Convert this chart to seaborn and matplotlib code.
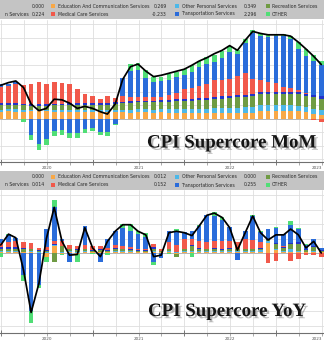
import numpy as np
import pandas as pd
import matplotlib
matplotlib.use("Agg")
import matplotlib.pyplot as plt
import seaborn as sns
from matplotlib import patheffects as pe
from matplotlib.patches import Rectangle

sns.set_theme(style="white")
plt.rcParams["font.family"] = ["DejaVu Sans"]

# ---------------- data ----------------
dates = pd.date_range("2019-12-31", periods=43, freq="ME")

# top panel ("CPI Supercore MoM")
top_edu = [0.50,0.52,0.51,0.50,0.52,0.53,0.52,0.51,0.50,0.50,0.49,0.50,0.49,0.48,0.47,
           0.45,0.45,0.44,0.45,0.45,0.44,0.45,
           0.40,0.40,0.39,0.40,0.40,0.39,0.40,0.38,0.38,0.39,0.40,0.42,
           0.55,0.56,0.58,0.58,0.57,0.55,0.45,0.35,0.27]
top_pers = [0.15,0.15,0.16,0.15,0.14,0.13,0.13,0.14,0.14,0.15,0.15,0.14,0.14,0.15,0.15,
            0.18,0.20,0.21,0.22,0.22,0.22,0.23,
            0.28,0.29,0.30,0.30,0.31,0.32,
            0.36,0.38,0.40,0.41,0.42,0.43,0.43,0.42,0.42,0.41,0.40,0.40,0.39,0.38,0.35]
top_rec = [0.35,0.35,0.36,0.34,0.30,0.28,0.30,0.33,0.35,0.36,0.37,0.38,0.38,0.39,0.40,
           0.45,0.48,0.50,0.52,0.53,0.54,0.55,
           0.57,0.58,0.60,0.62,0.63,0.65,
           0.70,0.72,0.74,0.76,0.78,0.80,
           0.82,0.84,0.85,0.86,0.86,0.87,0.86,0.85,0.80]
top_water = [0.12,0.12,0.12,0.12,0.12,0.11,0.11,0.12,0.12,0.12,0.12,0.12,0.12,0.12,0.12,
             0.12,0.12,0.12,0.12,0.12,0.12,0.12,
             0.15,0.15,0.15,0.15,0.15,0.15,0.15,0.15,0.15,0.15,0.16,0.16,
             0.16,0.15,0.15,0.15,0.15,0.15,0.15,0.15,0.22]
top_med = [1.22,1.27,1.43,1.34,1.49,1.64,1.49,1.58,1.49,1.42,1.05,0.68,0.53,0.34,0.50,
           0.34,0.40,0.35,0.30,0.25,0.25,0.25,0.37,0.49,0.78,0.81,0.93,1.08,
           1.23,1.23,1.23,1.47,1.60,1.10,0.86,0.74,0.61,0.37,0.25,0.12,0.07,-0.10,-0.23]
top_trans = [0.20,0.15,0.10,-0.05,-1.21,-1.88,-1.51,-0.90,-0.85,-1.09,-1.07,-0.77,-0.72,-0.99,-0.99,
             -0.40,1.36,1.90,1.95,1.45,1.10,1.15,1.09,1.19,1.00,1.20,1.43,1.48,
             1.37,1.63,2.05,1.63,2.25,3.40,3.29,3.34,3.47,3.71,3.65,3.09,2.74,2.53,2.30]
top_other = [0.00,0.00,0.00,-0.20,-0.35,-0.42,-0.44,-0.37,-0.37,-0.37,-0.39,-0.29,-0.18,-0.25,-0.29,
             -0.05,0.00,0.50,0.54,0.56,0.44,0.35,0.44,0.37,0.42,0.49,0.44,0.49,
             0.50,0.49,0.42,0.25,0.25,0.25,0.20,0.17,0.17,0.17,0.25,0.49,0.49,0.42,0.30]
top_line = [2.46,2.66,2.78,2.29,1.07,0.58,0.75,1.43,1.38,1.14,0.75,0.90,0.75,0.50,0.33,
            1.07,2.90,3.84,4.03,3.51,3.10,3.20,3.35,3.50,3.65,3.95,4.25,4.50,
            4.80,5.05,5.40,5.05,5.80,6.45,6.30,6.20,6.20,6.20,6.10,5.65,5.15,4.60,4.00]

# bottom panel ("CPI Supercore YoY")
bot_edu = [0.01,0.01,0.01,0.01,0.02,0.00,-0.05,0.10,-0.02,0.01,-0.02,0.01,0.01,0.01,0.01,
           0.01,0.01,0.01,0.01,0.01,0.01,0.01,0.01,-0.02,0.01,0.01,0.01,0.01,
           0.01,0.01,0.01,0.01,0.01,0.01,0.02,0.14,0.04,0.01,0.02,0.01,0.01,0.01,0.01]
bot_pers = [0.02,0.02,0.02,0.01,0.01,0.01,0.01,0.01,0.02,0.02,0.02,0.02,0.01,0.01,0.01,
            0.02,0.02,0.02,0.01,0.01,0.02,0.01,0.02,0.01,0.02,0.02,0.02,0.02,
            0.02,0.02,0.02,0.02,0.02,0.02,0.02,0.02,0.02,0.02,0.03,0.02,0.01,0.02,0.01]
bot_rec = [0.03,0.03,0.03,0.03,0.02,0.02,0.02,-0.12,0.07,0.02,0.02,0.02,0.01,0.02,0.01,
           0.03,0.02,0.01,0.01,0.01,0.03,0.01,0.02,-0.04,0.02,0.07,0.03,0.02,
           0.03,0.01,0.03,0.02,0.02,0.02,0.02,0.02,0.06,0.04,0.08,0.10,0.02,0.05,0.01]
bot_water = [0.02,0.02,0.02,0.02,0.01,0.01,0.01,0.01,0.01,0.01,0.01,0.01,0.01,0.01,0.01,
             0.01,0.01,0.01,0.01,0.01,0.02,0.00,0.01,0.01,0.01,0.01,0.01,0.01,
             0.01,0.01,0.01,0.01,0.01,0.01,0.01,0.01,0.02,0.01,0.01,0.02,0.01,0.01,0.01]
bot_med = [0.06,0.07,0.08,0.08,0.08,0.03,0.04,0.04,0.07,0.05,0.05,0.05,0.05,0.04,0.03,
           0.04,0.03,0.03,0.02,0.02,0.05,0.02,0.09,0.09,0.13,0.09,0.09,0.09,
           0.09,0.12,0.09,0.09,0.14,0.12,0.08,-0.14,-0.11,0.02,-0.11,-0.08,-0.03,-0.03,-0.05]
bot_trans = [0.05,0.10,0.05,-0.30,-0.80,-0.44,0.25,0.47,0.02,-0.12,0.00,0.26,0.01,-0.13,0.13,
             0.19,0.26,0.23,0.20,0.16,-0.12,-0.07,0.16,0.19,0.10,0.10,0.21,0.38,
             0.35,0.28,0.20,-0.10,0.10,0.33,0.14,0.14,0.20,0.16,0.25,0.18,0.06,0.10,0.03]
bot_other = [-0.05,0.01,0.00,-0.09,-0.16,-0.04,-0.08,0.10,-0.01,-0.01,-0.10,0.00,-0.02,0.00,-0.03,
             0.01,0.05,0.09,0.05,0.05,-0.05,0.00,-0.02,0.03,0.00,-0.05,0.01,0.00,
             0.05,0.05,0.00,0.00,0.00,0.01,0.02,0.00,0.02,0.00,0.05,0.01,0.01,0.01,0.00]
bot_line = [0.11,0.26,0.21,-0.24,-0.82,-0.42,0.20,0.63,0.16,-0.03,-0.02,0.35,0.07,-0.05,0.16,
            0.30,0.39,0.39,0.30,0.25,-0.05,-0.03,0.28,0.30,0.28,0.24,0.37,0.52,
            0.55,0.49,0.35,0.04,0.28,0.51,0.28,0.18,0.25,0.25,0.33,0.25,0.07,0.16,0.00]

year_labels = ["2020", "2021", "2022", "2023"]

# legend: first column only shows its tail inside the picture
legend_col0_tail = ["", "n Services"]
legend_names = ["Education And Communication Services", "Medical Care Services",
                "Other Personal Services", "Transportation Services",
                "Recreation Services", "OTHER"]
legend_colors = ["#F8A847", "#F1594B", "#4DB8E8", "#2A6CDA", "#6F9B43", "#50DE76"]
top_legend_vals = ["0.000", "0.224", "0.269", "-0.233", "0.349", "2.296", "", ""]
bot_legend_vals = ["0.000", "0.014", "0.012", "0.152", "0.000", "0.255", "", ""]

COL = {"edu": "#F8A847", "pers": "#4DB8E8", "rec": "#6F9B43", "water": "#2231C9",
       "med": "#F1594B", "trans": "#2A6CDA", "other": "#50DE76"}

# ---------------- figure ----------------
W, H = 324, 343
fig = plt.figure(figsize=(W / 100, H / 100), dpi=100)
fig.patch.set_facecolor("white")

x = ((dates - pd.Timestamp("2020-01-01")).days / 30.4375).to_numpy()
XMIN, XMAX = -0.13, 42.28


def fy(py):
    return 1 - py / H


def draw_panel(ax, comps, line, ylim, gstep):
    keys = ["edu", "pers", "rec", "water", "med", "trans", "other"]
    arr = np.array(comps, dtype=float)
    pos = np.cumsum(np.clip(arr, 0, None), axis=0)
    neg = np.cumsum(np.clip(arr, None, 0), axis=0)
    for i in reversed(range(len(keys))):
        for stack in (pos, neg):
            sns.barplot(x=x, y=stack[i], color=COL[keys[i]], native_scale=True,
                        width=0.66, orient="x", errorbar=None, saturation=1,
                        linewidth=0, ax=ax, zorder=2)
    sns.lineplot(x=x, y=line, color="black", linewidth=1.25, ax=ax, zorder=5)
    ax.set_xlim(XMIN, XMAX)
    ax.set_ylim(*ylim)
    yt = np.arange(np.ceil(ylim[0] / gstep), np.floor(ylim[1] / gstep) + 1) * gstep
    ax.set_yticks(yt)
    ax.tick_params(axis="y", left=False, right=False, labelleft=False)
    ax.set_xticks([0, 12, 24, 36])
    ax.set_xticks([q for q in range(3, 45, 3) if q % 12], minor=True)
    ax.set_xticklabels([])
    ax.tick_params(axis="x", which="major", length=4, width=0.6, color="#666",
                   direction="inout", bottom=True)
    ax.tick_params(axis="x", which="minor", length=2, width=0.5, color="#888",
                   direction="out", bottom=True)
    ax.grid(True, which="major", axis="y", color="#dedede", linewidth=0.6)
    ax.grid(True, which="both", axis="x", color="#dedede", linewidth=0.6)
    ax.set_axisbelow(True)
    ax.axhline(0, color="#b0b0b0", linewidth=0.6, zorder=1)
    for s in ["top", "left", "right"]:
        ax.spines[s].set_visible(False)
    ax.spines["bottom"].set_color("#707070")
    ax.spines["bottom"].set_linewidth(0.8)
    ax.set_xlabel("")
    ax.set_ylabel("")
    for i, lab in enumerate(year_labels):
        xc = min(6 + 12 * i, XMAX - 0.9)   # keep the last (partial-year) label inside
        ax.text(xc, -0.045, lab, transform=ax.get_xaxis_transform(),
                ha="center", va="center", fontsize=3.0, color="#555555")


def legend_band(top_px, vals):
    fig.add_artist(Rectangle((0, fy(top_px + 19)), 1, 19 / H, transform=fig.transFigure,
                             facecolor="#c4c4c4", edgecolor="none", zorder=0))
    rows = [top_px + 6, top_px + 14]
    fs = 3.3
    tc = "#2a2a2a"
    for r in range(2):
        if legend_col0_tail[r]:
            fig.text(28.5 / W, fy(rows[r]), legend_col0_tail[r], fontsize=fs,
                     va="center", ha="right", color=tc)
        fig.text(45 / W, fy(rows[r]), vals[r], fontsize=fs, va="center", ha="right", color=tc)
    cols = [(51, 57.5, 167), (175, 181.5, 257), (266, 272, None)]
    for c, (sq, lx, vx) in enumerate(cols):
        for r in range(2):
            idx = 2 * c + r
            yc = rows[r]
            fig.add_artist(Rectangle((sq / W, fy(yc + 2)), 4.2 / W, 4.2 / H,
                                     transform=fig.transFigure, facecolor=legend_colors[idx],
                                     edgecolor="none", zorder=2))
            fig.text(lx / W, fy(yc), legend_names[idx], fontsize=fs, va="center",
                     ha="left", color=tc)
            if vx is not None and vals[2 + idx]:
                fig.text(vx / W, fy(yc), vals[2 + idx], fontsize=fs, va="center",
                         ha="right", color=tc)


ax1 = fig.add_axes([0, fy(162), 1, (162 - 20) / H])
draw_panel(ax1, [top_edu, top_pers, top_rec, top_water, top_med, top_trans, top_other],
           top_line, (-(162 - 118.5) / 13.5, (118.5 - 20) / 13.5), 1.0)

ax2 = fig.add_axes([0, fy(333), 1, (333 - 190) / H])
draw_panel(ax2, [bot_edu, bot_pers, bot_rec, bot_water, bot_med, bot_trans, bot_other],
           bot_line, (-(333 - 253) / 72.5, (253 - 190) / 72.5), 0.2)

legend_band(0, top_legend_vals)
legend_band(171, bot_legend_vals)

shadow = [pe.SimplePatchShadow(offset=(1.6, -1.6), shadow_rgbFace="#808080", alpha=0.55), pe.Normal()]
fig.text(147 / W, fy(147.5), "CPI Supercore MoM", fontsize=13.6, family="Liberation Serif",
         fontweight="bold", color="#151515", ha="left", va="baseline", path_effects=shadow, zorder=10)
fig.text(148 / W, fy(316), "CPI Supercore YoY", fontsize=13.6, family="Liberation Serif",
         fontweight="bold", color="#151515", ha="left", va="baseline", path_effects=shadow, zorder=10)

fig.savefig("out.png", dpi=100, facecolor="white")
